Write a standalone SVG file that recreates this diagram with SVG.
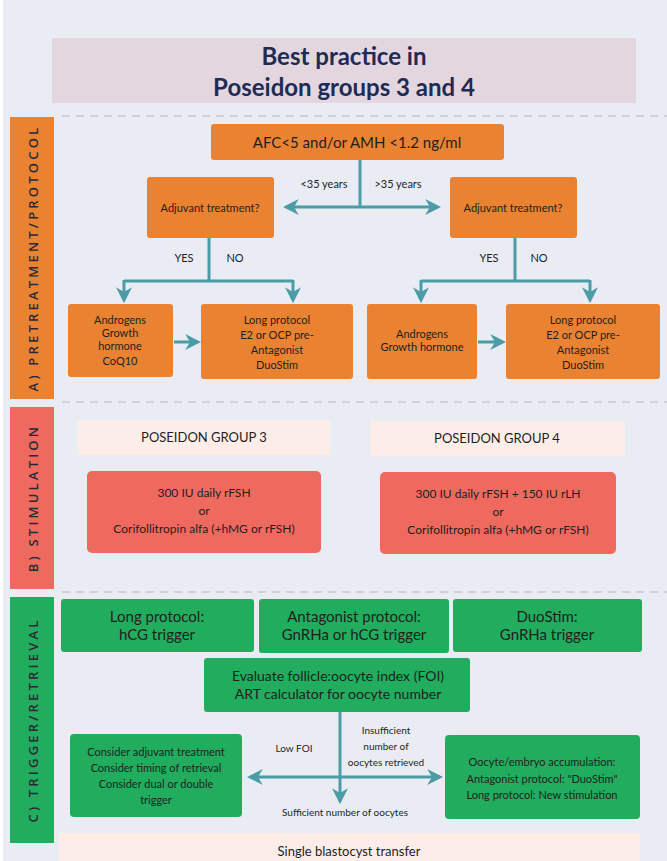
<svg xmlns="http://www.w3.org/2000/svg" width="667" height="861" viewBox="0 0 667 861">
<style>
text{font-family:Lato,"Open Sans",sans-serif;fill:#1e1e1e;text-anchor:middle}
.or{fill:#ea8331}.gr{fill:#22ad5e}.rd{fill:#ef6a5e}.pk{fill:#fdede9}
.ln{stroke:#4b9ca6;stroke-width:3;fill:none}
.dash{stroke:#c4c9d0;stroke-width:1.5;stroke-dasharray:8 6}
.side{font-family:"Open Sans",sans-serif;font-size:13px;font-weight:600;letter-spacing:3.2px;fill:#2a2836}
.s{font-size:11px}.m{font-size:13px}.l{font-size:16px}.r{font-size:12px}
</style>
<defs>
<marker id="a" viewBox="0 0 10 10" markerWidth="16" markerHeight="16" refX="8" refY="5" orient="auto" markerUnits="userSpaceOnUse"><path d="M0,0 L10,5 L0,10 L3,5 Z" fill="#4b9ca6"/></marker></defs>
<rect width="667" height="861" fill="#fff"/>
<rect x="3" y="0" width="664" height="861" fill="#e9edf3"/>
<g id="title"><rect x="52" y="38" width="584" height="65" fill="#e3d6df"/>
<text x="344" y="65" style="font-size:24px;font-weight:bold;fill:#1d2b55">Best practice in</text>
<text x="344" y="96" style="font-size:24px;font-weight:bold;fill:#1d2b55">Poseidon groups 3 and 4</text></g>
<line class="dash" x1="62" y1="116" x2="667" y2="116"/>
<line class="dash" x1="62" y1="402" x2="667" y2="402"/>
<line class="dash" x1="62" y1="592" x2="667" y2="592"/>
<g id="barA"><rect x="10" y="117" width="44" height="282" class="or"/><text class="side" transform="translate(38,258) rotate(-90)">A) PRETREATMENT/PROTOCOL</text></g>
<g id="barB"><rect x="10" y="407" width="44" height="182" class="rd"/><text class="side" transform="translate(38,498) rotate(-90)">B) STIMULATION</text></g>
<g id="barC"><rect x="10" y="597" width="44" height="246" class="gr"/><text class="side" transform="translate(38,720) rotate(-90)">C) TRIGGER/RETRIEVAL</text></g>
<g id="connectors">
<path class="ln" d="M360,160 V207"/>
<path class="ln" d="M360,207 H286" marker-end="url(#a)"/>
<path class="ln" d="M360,207 H438" marker-end="url(#a)"/>
<path class="ln" d="M209,238 V281 M124,281 H293"/>
<path class="ln" d="M124,280 V300" marker-end="url(#a)"/>
<path class="ln" d="M293,280 V300" marker-end="url(#a)"/>
<path class="ln" d="M515,238 V281 M421,281 H590"/>
<path class="ln" d="M421,280 V300" marker-end="url(#a)"/>
<path class="ln" d="M590,280 V300" marker-end="url(#a)"/>
<path class="ln" d="M174,342 H198" marker-end="url(#a)"/>
<path class="ln" d="M478,342 H503" marker-end="url(#a)"/>
<path class="ln" d="M340,712 V801" marker-end="url(#a)"/>
<path class="ln" d="M340,777 H250" marker-end="url(#a)"/>
<path class="ln" d="M340,777 H440" marker-end="url(#a)"/>
</g>
<g id="lbls">
<text class="s" x="324" y="188">&lt;35 years</text><text class="s" x="398" y="188">&gt;35 years</text>
<text class="s" x="184" y="262">YES</text><text class="s" x="235" y="262">NO</text>
<text class="s" x="489" y="262">YES</text><text class="s" x="539" y="262">NO</text>
<text class="s" x="294" y="752" style="font-size:10px">Low FOI</text>
<text x="386" y="734" style="font-size:10px">Insufficient</text>
<text x="386" y="750" style="font-size:10px">number of</text>
<text x="386" y="766" style="font-size:10px">oocytes retrieved</text>
<text x="345" y="816" style="font-size:10px">Sufficient number of oocytes</text>
</g>
<g id="afc"><rect x="211" y="124" width="293" height="36" rx="3" class="or"/><text class="l" x="357" y="148" style="font-size:15px">AFC&lt;5 and/or AMH &lt;1.2 ng/ml</text></g>
<g id="adjL"><rect x="147" y="177" width="127" height="61" rx="3" class="or"/><text class="s" x="210" y="212">Adjuvant treatment?</text></g>
<g id="adjR"><rect x="450" y="177" width="127" height="61" rx="3" class="or"/><text class="s" x="513" y="212">Adjuvant treatment?</text></g>
<g id="andL"><rect x="68" y="304" width="105" height="73" rx="3" class="or"/><text class="s"><tspan x="120" y="324">Androgens</tspan><tspan x="120" y="337">Growth</tspan><tspan x="120" y="350">hormone</tspan><tspan x="120" y="365">CoQ10</tspan></text></g>
<g id="longL"><rect x="201" y="304" width="152" height="75" rx="3" class="or"/><text class="s"><tspan x="277" y="324">Long protocol</tspan><tspan x="277" y="339">E2 or OCP pre-</tspan><tspan x="277" y="354">Antagonist</tspan><tspan x="277" y="369">DuoStim</tspan></text></g>
<g id="andR"><rect x="367" y="304" width="110" height="75" rx="3" class="or"/><text class="s"><tspan x="422" y="338">Androgens</tspan><tspan x="422" y="351">Growth hormone</tspan></text></g>
<g id="longR"><rect x="506" y="304" width="154" height="75" rx="3" class="or"/><text class="s"><tspan x="583" y="324">Long protocol</tspan><tspan x="583" y="339">E2 or OCP pre-</tspan><tspan x="583" y="354">Antagonist</tspan><tspan x="583" y="369">DuoStim</tspan></text></g>
<g id="g3"><rect x="78" y="420" width="252" height="35" class="pk"/><text class="m" x="204" y="442">POSEIDON GROUP 3</text></g>
<g id="g4"><rect x="370" y="421" width="255" height="35" class="pk"/><text class="m" x="497" y="443">POSEIDON GROUP 4</text></g>
<g id="s3"><rect x="87" y="471" width="234" height="82" rx="5" class="rd"/><text class="r"><tspan x="204" y="497">300 IU daily rFSH</tspan><tspan x="204" y="515">or</tspan><tspan x="204" y="533">Corifollitropin alfa (+hMG or rFSH)</tspan></text></g>
<g id="s4"><rect x="380" y="472" width="236" height="82" rx="5" class="rd"/><text class="r"><tspan x="498" y="498">300 IU daily rFSH + 150 IU rLH</tspan><tspan x="498" y="516">or</tspan><tspan x="498" y="534">Corifollitropin alfa (+hMG or rFSH)</tspan></text></g>
<g id="t1"><rect x="61" y="599" width="193" height="53" rx="3" class="gr"/><text class="m" style="font-size:15px"><tspan x="157" y="622">Long protocol:</tspan><tspan x="157" y="640">hCG trigger</tspan></text></g>
<g id="t2"><rect x="259" y="599" width="190" height="54" rx="3" class="gr"/><text class="m" style="font-size:15px"><tspan x="354" y="622">Antagonist protocol:</tspan><tspan x="354" y="640">GnRHa or hCG trigger</tspan></text></g>
<g id="t3"><rect x="453" y="599" width="189" height="53" rx="3" class="gr"/><text class="m" style="font-size:15px"><tspan x="547" y="622">DuoStim:</tspan><tspan x="547" y="640">GnRHa trigger</tspan></text></g>
<g id="foi"><rect x="204" y="658" width="266" height="54" rx="3" class="gr"/><text class="m" style="font-size:14px"><tspan x="338" y="681">Evaluate follicle:oocyte index (FOI)</tspan><tspan x="338" y="699">ART calculator for oocyte number</tspan></text></g>
<g id="lowbox"><rect x="70" y="734" width="172" height="83" rx="4" class="gr"/><text class="s"><tspan x="156" y="756">Consider adjuvant treatment</tspan><tspan x="156" y="772">Consider timing of retrieval</tspan><tspan x="156" y="788">Consider dual or double</tspan><tspan x="156" y="804">trigger</tspan></text></g>
<g id="accbox"><rect x="445" y="735" width="195" height="84" rx="4" class="gr"/><text class="s"><tspan x="542" y="766">Oocyte/embryo accumulation:</tspan><tspan x="542" y="783">Antagonist protocol: "DuoStim"</tspan><tspan x="542" y="799">Long protocol: New stimulation</tspan></text></g>
<g id="sbt"><rect x="59" y="833" width="581" height="30" class="pk"/><text class="m" x="349" y="856">Single blastocyst transfer</text></g>
</svg>
